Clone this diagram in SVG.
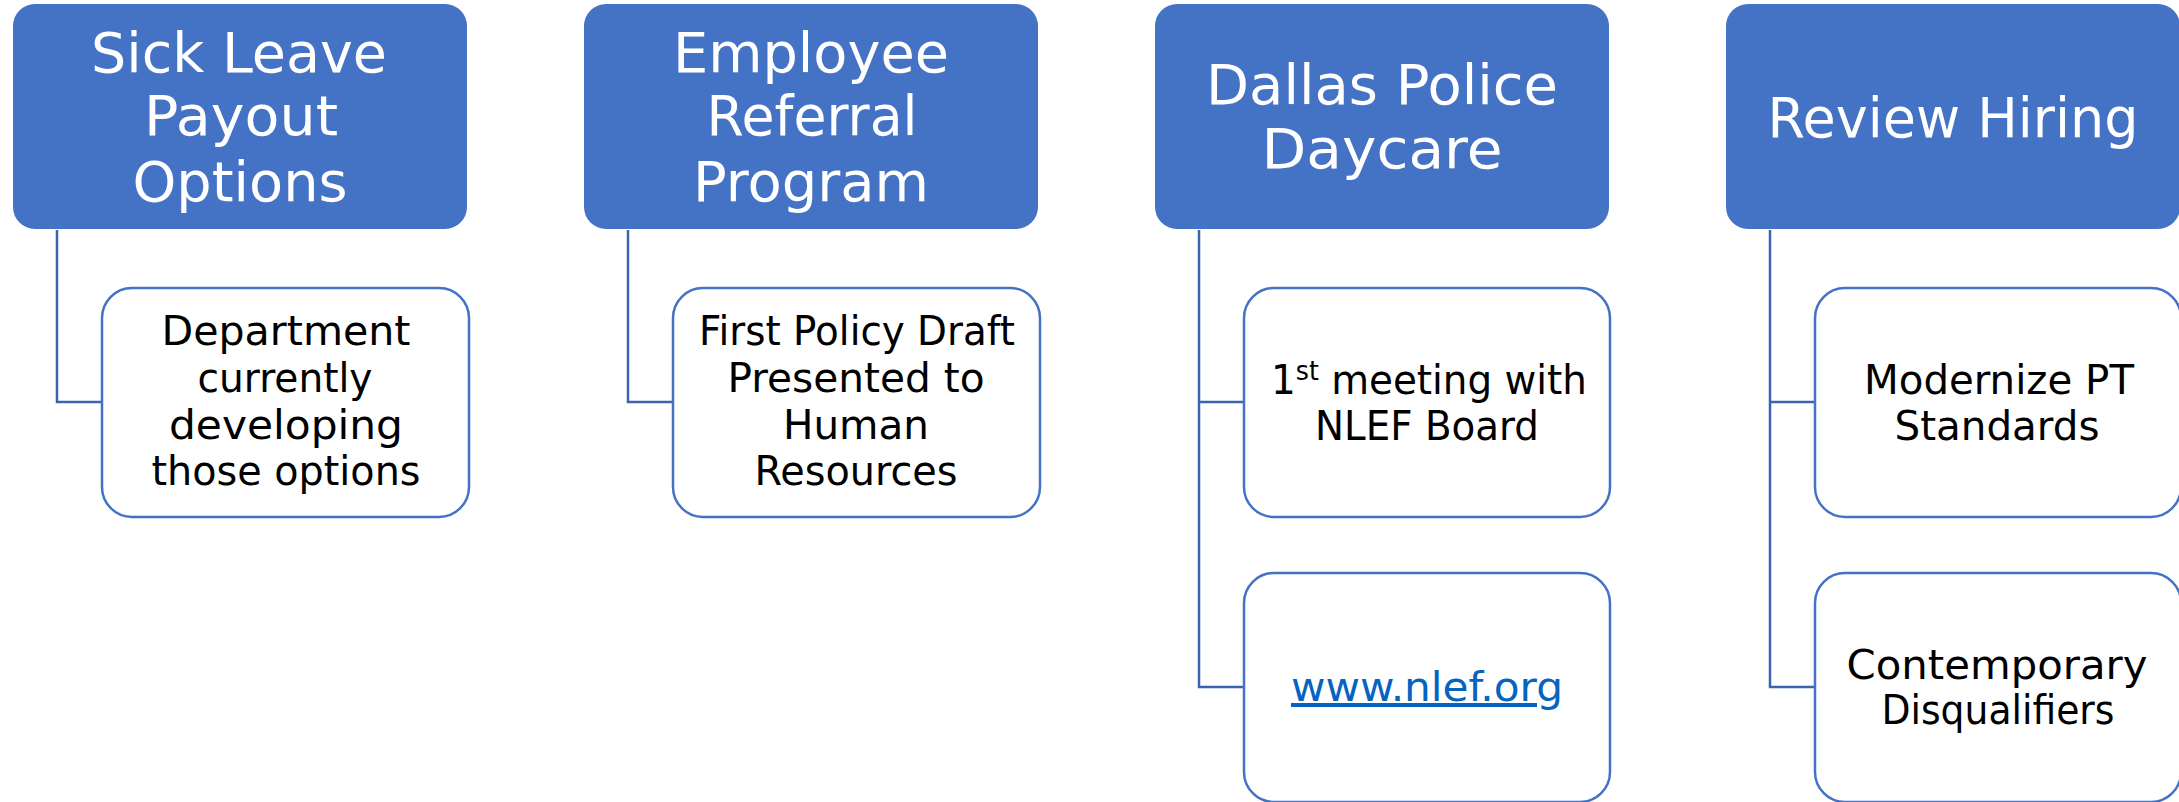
<svg xmlns="http://www.w3.org/2000/svg" width="2179" height="802" viewBox="0 0 2179 802">
<style>
.top{fill:#4472C4;}
.child{fill:#FFFFFF;stroke:#4472C4;stroke-width:2.5;}
.conn{fill:none;stroke:#3C64AE;stroke-width:2.5;}
.tt{font-family:"DejaVu Sans","Liberation Sans",sans-serif;font-size:56px;fill:#FFFFFF;text-anchor:middle;}
.ct{font-family:"DejaVu Sans","Liberation Sans",sans-serif;font-size:40px;fill:#000000;text-anchor:middle;}
.link{fill:#0563C1;text-decoration:underline;}
</style>
<rect width="2179" height="802" fill="#FFFFFF"/>
<g id="connectors">
<polyline class="conn" points="57,230 57,402 102,402"/>
<polyline class="conn" points="628,230 628,402 673,402"/>
<polyline class="conn" points="1199,230 1199,687 1244,687"/>
<line class="conn" x1="1199" y1="402" x2="1244" y2="402"/>
<polyline class="conn" points="1770,230 1770,687 1815,687"/>
<line class="conn" x1="1770" y1="402" x2="1815" y2="402"/>
</g>
<g id="sick-leave">
<rect class="top" x="13" y="4" width="454" height="225" rx="22"/>
<text class="tt"><tspan x="239" y="72" textLength="296" lengthAdjust="spacingAndGlyphs">Sick Leave</tspan><tspan x="241" y="135" textLength="194" lengthAdjust="spacingAndGlyphs">Payout</tspan><tspan x="240" y="201" textLength="215" lengthAdjust="spacingAndGlyphs">Options</tspan></text>
</g>
<g id="sick-leave-child">
<rect class="child" x="102" y="288" width="367" height="229" rx="30"/>
<text class="ct"><tspan x="286" y="345" textLength="249" lengthAdjust="spacingAndGlyphs">Department</tspan><tspan x="285" y="392" textLength="175" lengthAdjust="spacingAndGlyphs">currently</tspan><tspan x="286" y="439" textLength="234" lengthAdjust="spacingAndGlyphs">developing</tspan><tspan x="286" y="485" textLength="269" lengthAdjust="spacingAndGlyphs">those options</tspan></text>
</g>
<g id="employee-referral">
<rect class="top" x="584" y="4" width="454" height="225" rx="22"/>
<text class="tt"><tspan x="811" y="72" textLength="276" lengthAdjust="spacingAndGlyphs">Employee</tspan><tspan x="812" y="135" textLength="211" lengthAdjust="spacingAndGlyphs">Referral</tspan><tspan x="811" y="201" textLength="236" lengthAdjust="spacingAndGlyphs">Program</tspan></text>
</g>
<g id="employee-referral-child">
<rect class="child" x="673" y="288" width="367" height="229" rx="30"/>
<text class="ct"><tspan x="857" y="345" textLength="316" lengthAdjust="spacingAndGlyphs">First Policy Draft</tspan><tspan x="856" y="392" textLength="257" lengthAdjust="spacingAndGlyphs">Presented to</tspan><tspan x="856" y="439" textLength="146" lengthAdjust="spacingAndGlyphs">Human</tspan><tspan x="856" y="485" textLength="203" lengthAdjust="spacingAndGlyphs">Resources</tspan></text>
</g>
<g id="dallas-daycare">
<rect class="top" x="1155" y="4" width="454" height="225" rx="22"/>
<text class="tt"><tspan x="1382" y="104" textLength="352" lengthAdjust="spacingAndGlyphs">Dallas Police</tspan><tspan x="1382" y="168" textLength="241" lengthAdjust="spacingAndGlyphs">Daycare</tspan></text>
</g>
<g id="dallas-child-1">
<rect class="child" x="1244" y="288" width="366" height="229" rx="30"/>
<text class="ct" x="1429" y="394" textLength="316" lengthAdjust="spacingAndGlyphs">1<tspan font-size="26" dy="-14">st</tspan><tspan dy="14"> meeting with</tspan></text>
<text class="ct" x="1427" y="440" textLength="224" lengthAdjust="spacingAndGlyphs">NLEF Board</text>
</g>
<g id="dallas-child-2">
<rect class="child" x="1244" y="573" width="366" height="229" rx="30"/>
<text class="ct link" x="1427" y="701" textLength="272" lengthAdjust="spacingAndGlyphs">www.nlef.org</text>
</g>
<g id="review-hiring">
<rect class="top" x="1726" y="4" width="454" height="225" rx="22"/>
<text class="tt" x="1953" y="137" textLength="371" lengthAdjust="spacingAndGlyphs">Review Hiring</text>
</g>
<g id="review-child-1">
<rect class="child" x="1815" y="288" width="366" height="229" rx="30"/>
<text class="ct"><tspan x="1999" y="394" textLength="270" lengthAdjust="spacingAndGlyphs">Modernize PT</tspan><tspan x="1997" y="440" textLength="205" lengthAdjust="spacingAndGlyphs">Standards</tspan></text>
</g>
<g id="review-child-2">
<rect class="child" x="1815" y="573" width="366" height="229" rx="30"/>
<text class="ct"><tspan x="1997" y="679" textLength="301" lengthAdjust="spacingAndGlyphs">Contemporary</tspan><tspan x="1998" y="724" textLength="233" lengthAdjust="spacingAndGlyphs">Disqualifiers</tspan></text>
</g>
</svg>
